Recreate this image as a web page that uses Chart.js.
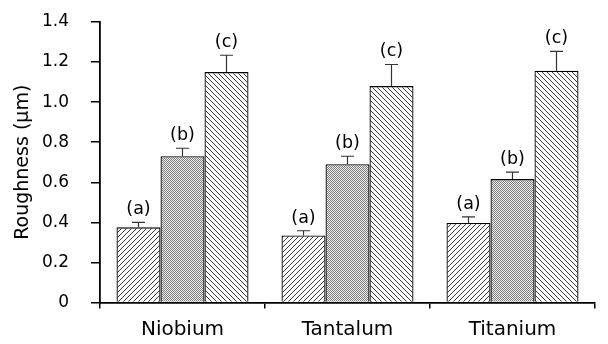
<!DOCTYPE html>
<html>
<head>
<meta charset="utf-8">
<script src="https://cdn.jsdelivr.net/npm/chart.js@4"></script>
<style>
  html, body { margin: 0; padding: 0; background: #fff; }
  #wrap { width: 608px; height: 344px; }
</style>
</head>
<body>
<div id="wrap"><canvas id="roughness"></canvas></div>
<script>
const metals = ['Niobium', 'Tantalum', 'Titanium'];
const groupLetters = ['(a)', '(b)', '(c)'];
const roughA = [0.375, 0.335, 0.397];
const roughB = [0.73, 0.69, 0.616];
const roughC = [1.15, 1.08, 1.157];
const errA = [0.025, 0.023, 0.03];
const errB = [0.04, 0.04, 0.035];
const errC = [0.084, 0.108, 0.096];

function hatch(dir) {
    const s = 5;
    const c = document.createElement('canvas');
    c.width = s; c.height = s;
    const g = c.getContext('2d');
    g.fillStyle = '#fff';
    g.fillRect(0, 0, s, s);
    g.strokeStyle = '#222';
    g.lineWidth = 0.9;
    g.beginPath();
    if (dir === '/') {
        g.moveTo(-1, s + 1); g.lineTo(s + 1, -1);
        g.moveTo(-1, 1); g.lineTo(1, -1);
        g.moveTo(s - 1, s + 1); g.lineTo(s + 1, s - 1);
    } else {
        g.moveTo(-1, -1); g.lineTo(s + 1, s + 1);
        g.moveTo(s - 1, -1); g.lineTo(s + 1, 1);
        g.moveTo(-1, s - 1); g.lineTo(1, s + 1);
    }
    g.stroke();
    return g.createPattern(c, 'repeat');
}

function dots() {
    const c = document.createElement('canvas');
    c.width = 2; c.height = 2;
    const g = c.getContext('2d');
    g.fillStyle = '#ececec';
    g.fillRect(0, 0, 2, 2);
    g.fillStyle = '#808080';
    g.fillRect(0, 0, 1, 1);
    g.fillRect(1, 1, 1, 1);
    return g.createPattern(c, 'repeat');
}

const errorsPlugin = {
    id: 'errorsAndLetters',
    afterDatasetsDraw(chart) {
        const ctx = chart.ctx;
        const y = chart.scales.y;
        const errs = [errA, errB, errC];
        ctx.save();
        chart.data.datasets.forEach((ds, di) => {
            const meta = chart.getDatasetMeta(di);
            meta.data.forEach((bar, i) => {
                const top = y.getPixelForValue(ds.data[i]);
                const et = y.getPixelForValue(ds.data[i] + errs[di][i]);
                ctx.strokeStyle = '#333';
                ctx.lineWidth = 1.2;
                ctx.beginPath();
                ctx.moveTo(bar.x, top);
                ctx.lineTo(bar.x, et);
                ctx.moveTo(bar.x - 6.5, et);
                ctx.lineTo(bar.x + 6.5, et);
                ctx.stroke();
                ctx.fillStyle = '#000';
                ctx.font = '17.5px "DejaVu Sans"';
                ctx.textAlign = 'center';
                ctx.textBaseline = 'alphabetic';
                ctx.fillText(groupLetters[di], bar.x, et - 8);
            });
        });
        ctx.restore();
    }
};

const chart = new Chart(document.getElementById('roughness'), {
    type: 'bar',
    data: {
        labels: metals,
        datasets: [
            { label: groupLetters[0], data: roughA, backgroundColor: hatch('/') },
            { label: groupLetters[1], data: roughB, backgroundColor: dots() },
            { label: groupLetters[2], data: roughC, backgroundColor: hatch('\\') }
        ]
    },
    options: {
        responsive: true,
        maintainAspectRatio: false,
        animation: false,
        layout: { padding: { top: 22, right: 13, left: 0, bottom: 0 } },
        datasets: {
            bar: {
                categoryPercentage: 0.8,
                barPercentage: 1.0,
                borderColor: '#000',
                borderWidth: 1.3
            }
        },
        plugins: {
            legend: { display: false },
            tooltip: { enabled: false }
        },
        scales: {
            x: {
                grid: {
                    offset: true,
                    drawOnChartArea: false,
                    tickLength: 6,
                    color: '#000',
                    lineWidth: 1.5
                },
                border: { color: '#000', width: 1.8 },
                ticks: {
                    color: '#000',
                    padding: 9,
                    font: { family: 'DejaVu Sans', size: 20 }
                },
                afterFit(s) { s.height = 41.5; }
            },
            y: {
                min: 0,
                max: 1.4,
                grid: {
                    drawOnChartArea: false,
                    tickLength: 9,
                    color: '#000',
                    lineWidth: 1.5
                },
                border: { color: '#000', width: 1.8 },
                ticks: {
                    stepSize: 0.1,
                    color: '#000',
                    padding: 22,
                    font: { family: 'DejaVu Sans', size: 17 },
                    callback: function (v) {
                        const k = Math.round(v * 10);
                        if (k % 2 !== 0) return '';
                        return k === 0 ? '0' : (k / 10).toFixed(1);
                    }
                },
                title: {
                    display: true,
                    text: 'Roughness (μm)',
                    color: '#000',
                    font: { family: 'DejaVu Sans', size: 19 },
                    padding: { top: 12, bottom: 0 }
                },
                afterFit(s) {
                    s.width = 100;
                    s.paddingTop = 0;
                    s.paddingBottom = 0;
                }
            }
        }
    },
    plugins: [errorsPlugin]
});
</script>
</body>
</html>
